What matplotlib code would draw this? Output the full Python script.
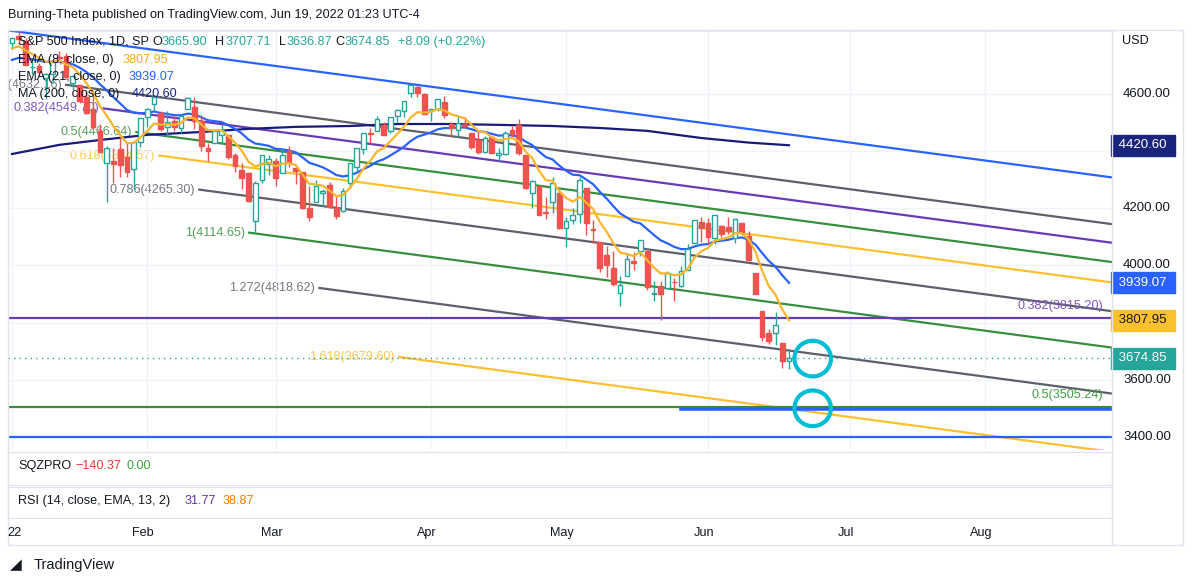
import numpy as np
import pandas as pd
import matplotlib
matplotlib.use("Agg")
import matplotlib.pyplot as plt
from matplotlib.patches import Ellipse

plt.rcParams["font.family"] = "Liberation Sans"

W, H = 1194, 582
FS = 9.1

# warm-up closes (Dec 2021) used only for the moving averages
warmup_closes = [4513, 4577, 4538, 4592, 4686, 4701, 4667, 4712, 4669, 4635, 4710,
                 4669, 4621, 4568, 4650, 4697, 4726, 4791, 4786, 4793, 4778, 4766]

# daily OHLC, Jan 3 - Jun 17 2022
opens = [4778, 4804, 4787, 4693, 4698, 4656, 4670, 4729, 4733, 4637, 4632, 4589, 4548, 4471, 4357, 4367, 4408, 4381, 4337, 4431,
         4519, 4566, 4535, 4483, 4505, 4480, 4547, 4553, 4506, 4412, 4429, 4455, 4456, 4385, 4333, 4325, 4156, 4299, 4355,
         4364, 4322, 4402, 4342, 4327, 4202, 4223, 4253, 4280, 4202, 4189, 4288, 4345, 4407, 4463, 4470, 4493, 4470, 4523, 4541, 4603, 4624, 4600,
         4541, 4547, 4573, 4495, 4474, 4495, 4462, 4438, 4398, 4448, 4385, 4390, 4473, 4490, 4385, 4255, 4278, 4187, 4223, 4253,
         4130, 4159, 4181, 4270, 4129, 4081, 4035, 3990, 3903, 3963, 4014, 4052, 4052, 3900, 3928, 3920, 3943, 3929, 3985, 4077, 4151,
         4150, 4096, 4137, 4134, 4097, 4148, 4102, 3974, 3839, 3764, 3764, 3729, 3665.90]
highs = [4797, 4819, 4797, 4725, 4708, 4674, 4714, 4749, 4744, 4665, 4632, 4612, 4603, 4495, 4417, 4411, 4454, 4429, 4432, 4516,
         4551, 4595, 4542, 4540, 4522, 4531, 4590, 4589, 4527, 4427, 4472, 4490, 4456, 4395, 4357, 4327, 4295, 4385, 4388,
         4375, 4401, 4417, 4342, 4327, 4277, 4299, 4268, 4292, 4248, 4272, 4358, 4412, 4465, 4481, 4523, 4501, 4521, 4546, 4576, 4637, 4627, 4603,
         4549, 4583, 4594, 4503, 4522, 4521, 4464, 4471, 4452, 4452, 4410, 4471, 4488, 4513, 4385, 4300, 4278, 4240, 4309, 4270,
         4169, 4201, 4308, 4270, 4158, 4082, 4069, 4050, 3964, 4039, 4048, 4090, 4052, 3945, 3944, 3982, 3955, 3999, 4075, 4158, 4169,
         4166, 4177, 4143, 4169, 4164, 4149, 4120, 3974, 3839, 3778, 3838, 3729, 3707.71]
lows = [4758, 4774, 4700, 4671, 4663, 4582, 4638, 4717, 4651, 4615, 4568, 4531, 4477, 4396, 4223, 4287, 4310, 4309, 4265, 4415,
        4484, 4544, 4470, 4451, 4471, 4465, 4547, 4478, 4402, 4364, 4429, 4429, 4373, 4327, 4268, 4221, 4115, 4287, 4317,
        4279, 4322, 4345, 4285, 4199, 4157, 4223, 4209, 4201, 4161, 4187, 4270, 4330, 4390, 4425, 4469, 4455, 4465, 4501, 4518, 4589, 4589, 4530,
        4507, 4539, 4515, 4451, 4450, 4485, 4408, 4390, 4395, 4392, 4367, 4387, 4449, 4385, 4268, 4201, 4175, 4163, 4182, 4129,
        4063, 4145, 4148, 4107, 4077, 3976, 3959, 3929, 3859, 3963, 3983, 4033, 3914, 3877, 3810, 3919, 3875, 3925, 3985, 4077, 4083,
        4074, 4074, 4098, 4110, 4080, 4107, 4017, 3900, 3735, 3725, 3723, 3640, 3636.87]
closes = [4797, 4794, 4701, 4696, 4677, 4670, 4713, 4726, 4659, 4663, 4577, 4533, 4483, 4398, 4410, 4356, 4350, 4327, 4432, 4516,
          4547, 4589, 4477, 4501, 4484, 4522, 4587, 4504, 4419, 4402, 4471, 4475, 4380, 4349, 4305, 4226, 4289, 4385, 4374,
          4306, 4387, 4363, 4329, 4201, 4171, 4278, 4260, 4204, 4173, 4262, 4358, 4412, 4463, 4461, 4512, 4456, 4520, 4543, 4576, 4632, 4602, 4530,
          4546, 4583, 4525, 4481, 4500, 4488, 4413, 4397, 4447, 4393, 4392, 4462, 4459, 4394, 4272, 4296, 4175, 4184, 4288, 4132,
          4155, 4175, 4300, 4147, 4123, 3991, 4001, 3935, 3930, 4024, 4008, 4089, 3924, 3901, 3901, 3974, 3941, 3979, 4058, 4158, 4132,
          4101, 4177, 4109, 4121, 4161, 4116, 4018, 3901, 3750, 3735, 3790, 3667, 3674.85]

# MA(200)
ma200_bars = [0, 7, 13, 20, 28, 35, 42, 50, 57, 65, 72, 80, 87, 94, 102, 109, 115]
ma200_vals = [4390, 4422, 4439, 4457, 4467, 4478, 4485, 4488, 4495, 4495, 4492, 4488, 4481, 4471, 4446, 4430, 4420.6]

# fib channel: (label, start bar, start price, colour)
SLOPE = -3.15  # price per bar
channel = [
    ("", -1, 4824, "#2962ff"),
    ("0.236(4632.16)", 8, 4632.16, "#5d606b"),
    ("0.382(4549.70)", 13.5, 4549.70, "#673ab7"),
    ("0.5(4466.64)", 18.4, 4466.64, "#388e3c"),
    ("0.618(4384.57)", 21.8, 4384.57, "#fbc02d"),
    ("0.786(4265.30)", 27.7, 4265.30, "#5d606b"),
    ("1(4114.65)", 35.1, 4114.65, "#388e3c"),
    ("1.272(4818.62)", 45.5, 3921, "#5d606b"),
    ("1.618(3679.60)", 57.3, 3679.60, "#fbc02d"),
]
hlines = [(4824, "#2962ff"), (3815.20, "#673ab7"), (3505.24, "#388e3c"), (3400, "#2962ff")]

month_bars = [0, 20, 39, 62, 82, 103, 124, 144]
month_labels = ["22", "Feb", "Mar", "Apr", "May", "Jun", "Jul", "Aug"]
price_ticks = [3400, 3600, 4000, 4200, 4600]
grid_ticks = [3400, 3600, 3800, 4000, 4200, 4400, 4600]

X0, X1 = -0.6, 162.8
Y0, Y1 = 3354, 4824

fig = plt.figure(figsize=(W / 100, H / 100), dpi=100)
fig.patch.set_facecolor("white")


def fx(px):
    return px / W


def fy(py):
    return 1 - py / H


def ftext(px, py, s, **kw):
    kw.setdefault("fontsize", FS)
    kw.setdefault("va", "center")
    fig.text(fx(px), fy(py), s, **kw)


ax = fig.add_axes([fx(8), fy(450), fx(1104), 420 / H])
ax.set_xlim(X0, X1)
ax.set_ylim(Y0, Y1)
for s in ax.spines.values():
    s.set_visible(False)
ax.set_xticks(month_bars)
ax.set_yticks(grid_ticks)
ax.grid(True, color="#f0f3fa", linewidth=1)
ax.tick_params(length=0, labelbottom=False, labelleft=False)

bars = np.arange(len(closes))
all_closes = pd.Series(warmup_closes + closes)
ema8 = all_closes.ewm(span=8, adjust=True).mean().values[len(warmup_closes):]
ema21 = all_closes.ewm(span=21, adjust=True).mean().values[len(warmup_closes):]

# channel lines
for label, b0, p0, col in channel:
    xs = np.array([b0, X1])
    ys = p0 + SLOPE * (xs - b0)
    ax.plot(xs, ys, color=col, lw=1.6, zorder=2)
    if label:
        ax.text(b0 - 0.6, p0, label, color=col, fontsize=FS, ha="right", va="center",
                zorder=1, alpha=0.85, clip_on=True)
for p, col in hlines:
    ax.axhline(p, color=col, lw=1.6, zorder=2)
ax.plot([99, X1], [3497, 3497], color="#2962ff", lw=2.6, zorder=2)
ax.text(161.5, 3815.20 + 22, "0.382(3815.20)", color="#7e57c2", fontsize=FS, ha="right", va="bottom")
ax.text(161.5, 3505.24 + 22, "0.5(3505.24)", color="#43a047", fontsize=FS, ha="right", va="bottom")

# moving averages
ax.plot(ma200_bars, ma200_vals, color="#1a1a7a", lw=1.6, zorder=3)
ax.plot(bars, ema21, color="#2962ff", lw=1.6, zorder=4)

# candles
up_col, dn_col = "#26a69a", "#ef5350"
for i in bars:
    o, h, l, c = opens[i], highs[i], lows[i], closes[i]
    col = up_col if c >= o else dn_col
    ax.vlines(i, l, h, color=col, lw=1, zorder=5)
    ax.bar(i, max(abs(c - o), 2), bottom=min(o, c), width=0.7,
           facecolor="white" if c >= o else dn_col, edgecolor=col, lw=1, zorder=6)

ax.plot(bars, ema8, color="#f9b52b", lw=1.6, zorder=7)
ax.axhline(closes[-1], color=up_col, lw=1, ls=(0, (1, 3)), zorder=2)

# circles
for p in [3674, 3500]:
    ax.add_patch(Ellipse((118.5, p), 5.4, 125, fill=False, ec="#00bcd4", lw=3, zorder=8))

# right price scale
for t in price_ticks:
    ax.text(1.01, (t - Y0) / (Y1 - Y0), f"{t:.2f}", transform=ax.transAxes,
            fontsize=9.5, color="#131722", va="center")
for val, bg, fg in [(4420.60, "#1a237e", "white"), (3939.07, "#2962ff", "white"),
                    (3807.95, "#fbc02d", "#131722"), (3674.85, "#26a69a", "white")]:
    ax.text(1.003, (val - Y0) / (Y1 - Y0), f" {val:.2f} ", transform=ax.transAxes,
            fontsize=9.5, color=fg, va="center",
            bbox=dict(boxstyle="square,pad=0.35", fc=bg, ec=bg))

# lower panes
for y0, y1 in [(452, 485), (487, 518)]:
    p = fig.add_axes([fx(8), fy(y1), fx(1104), (y1 - y0) / H])
    p.set_xticks([])
    p.set_yticks([])
    for s in p.spines.values():
        s.set_color("#e0e3eb")

# frame lines
for xs, ys in [([8, 1183], [30, 30]), ([8, 1183], [545, 545]), ([1112, 1112], [30, 545]),
               ([1183, 1183], [30, 545]), ([8, 8], [30, 545])]:
    fig.add_artist(plt.Line2D([fx(v) for v in xs], [fy(v) for v in ys], color="#e0e3eb", lw=1))

# time axis labels
for b, lab in zip(month_bars, month_labels):
    xp = 8 + (b - X0) / (X1 - X0) * 1104
    ftext(xp - 4 if b else 14, 533, lab, ha="center", color="#131722")

# texts
ftext(8, 15, "Burning-Theta published on TradingView.com, Jun 19, 2022 01:23 UTC-4", color="#131722")
ftext(1122, 41, "USD", color="#131722")
ftext(18, 42, "S&P 500 Index, 1D, SP", color="#131722")
for xp, s, c in [(152, "O", "#131722"), (161, "3665.90", up_col), (215, "H", "#131722"),
                 (225, "3707.71", up_col), (279, "L", "#131722"), (286, "3636.87", up_col),
                 (335, "C", "#131722"), (344, "3674.85", up_col), (398, "+8.09 (+0.22%)", up_col)]:
    ftext(xp, 42, s, color=c)
ftext(18, 60, "EMA (8, close, 0)", color="#131722")
ftext(122, 60, "3807.95", color="#f9a825")
ftext(18, 77, "EMA (21, close, 0)", color="#131722")
ftext(128, 77, "3939.07", color="#2962ff")
ftext(18, 94, "MA (200, close, 0)", color="#131722")
ftext(132, 94, "4420.60", color="#1a237e")
ftext(18, 466, "SQZPRO", color="#131722")
ftext(75, 466, "\u2212140.37", color="#e53935")
ftext(127, 466, "0.00", color="#43a047")
ftext(18, 501, "RSI (14, close, EMA, 13, 2)", color="#131722")
ftext(184, 501, "31.77", color="#5e35b1")
ftext(222, 501, "38.87", color="#f57c00")
ftext(10, 565, "\u25e2", color="#131722", fontsize=11, fontfamily="DejaVu Sans")
ftext(34, 565, "TradingView", color="#131722", fontsize=10.5)

fig.savefig("out.png", dpi=100, facecolor="white")
